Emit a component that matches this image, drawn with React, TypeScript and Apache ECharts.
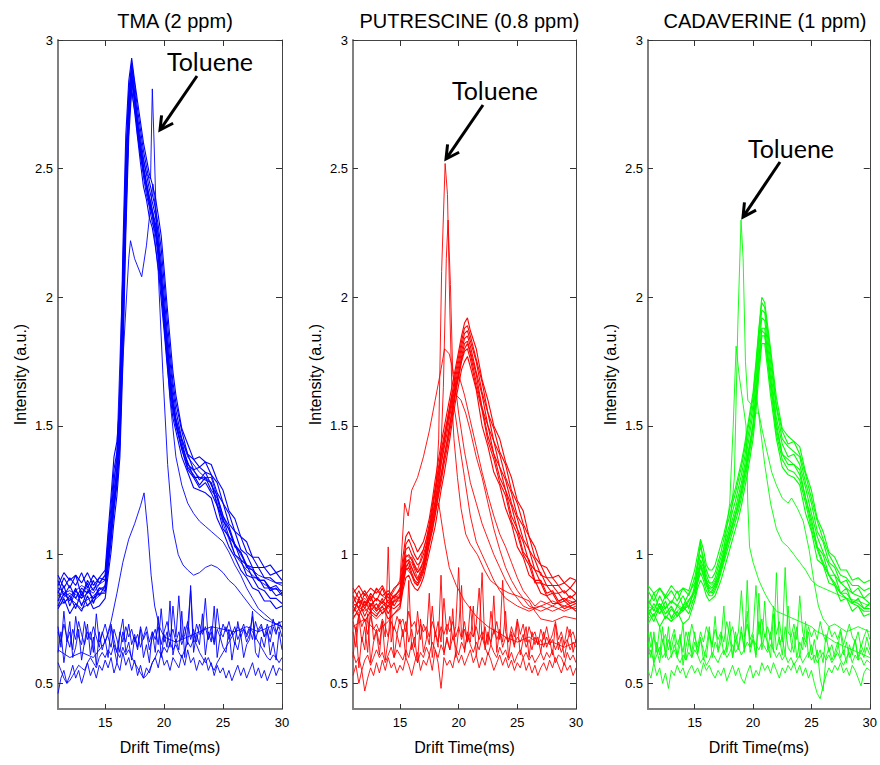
import React, { useEffect, useRef } from "react";
import * as echarts from "echarts";

// ---------- shared sample positions (drift time, ms) ----------
const XS = [11, 11.5, 12, 12.5, 13, 13.5, 14, 14.5,
  15, 15.25, 15.5, 15.75, 16, 16.25, 16.5, 16.75, 17, 17.25, 17.5, 17.75, 18, 18.25, 18.5, 18.75, 19, 19.25, 19.5, 19.75, 20, 20.25, 20.5, 20.75, 21,
  21.5, 22, 22.5, 23, 23.5, 24, 24.5, 25, 25.5, 26, 26.5, 27, 27.5, 28, 28.5, 29, 29.5, 30];
const XN = [11, 11.25, 11.5, 11.75, 12, 12.25, 12.5, 12.75, 13,
  13.25, 13.5, 13.75, 14, 14.25, 14.5, 14.75, 15,
  15.25, 15.5, 15.75, 16, 16.25, 16.5, 16.75, 17,
  17.25, 17.5, 17.75, 18, 18.25, 18.5, 18.75, 19,
  19.25, 19.5, 19.75, 20, 20.25, 20.5, 20.75, 21,
  21.25, 21.5, 21.75, 22, 22.25, 22.5, 22.75, 23,
  23.25, 23.5, 23.75, 24, 24.25, 24.5, 24.75, 25,
  25.25, 25.5, 25.75, 26, 26.25, 26.5, 26.75, 27,
  27.25, 27.5, 27.75, 28, 28.25, 28.5, 28.75, 29, 29.25, 29.5, 29.75, 30];

const X_TICKS = [15, 20, 25, 30];
const Y_TICKS = [0.5, 1, 1.5, 2, 2.5, 3];

// ---------- TMA (2 ppm) ----------
const TMA_B1 = [0.79, 0.83, 0.77, 0.81, 0.78, 0.84, 0.79, 0.8,
  0.83, 0.92, 1.01, 1.13, 1.23, 1.38, 1.74, 2.24, 2.62, 2.81, 2.72, 2.62, 2.52, 2.43, 2.38, 2.31, 2.27, 2.2, 2.12, 1.99, 1.87, 1.74, 1.62, 1.53, 1.48,
  1.38, 1.32, 1.26, 1.25, 1.24, 1.22, 1.14, 1.09, 1.03, 0.99, 0.94, 0.91, 0.87, 0.86, 0.82, 0.82, 0.79, 0.8];
const TMA_B2 = [0.86, 0.81, 0.84, 0.79, 0.86, 0.8, 0.83, 0.85,
  0.85, 0.95, 1.06, 1.18, 1.27, 1.42, 1.82, 2.3, 2.66, 2.84, 2.76, 2.63, 2.55, 2.47, 2.4, 2.35, 2.29, 2.25, 2.16, 2.04, 1.9, 1.77, 1.66, 1.56, 1.5,
  1.41, 1.33, 1.3, 1.26, 1.28, 1.24, 1.19, 1.1, 1.07, 1.0, 0.98, 0.92, 0.91, 0.87, 0.86, 0.83, 0.83, 0.81];
const TMA_B3 = [0.82, 0.88, 0.8, 0.86, 0.83, 0.89, 0.81, 0.87,
  0.86, 0.97, 1.09, 1.22, 1.3, 1.45, 1.9, 2.37, 2.7, 2.86, 2.77, 2.66, 2.57, 2.49, 2.43, 2.36, 2.32, 2.27, 2.18, 2.07, 1.94, 1.8, 1.68, 1.58, 1.51,
  1.42, 1.36, 1.3, 1.3, 1.29, 1.28, 1.19, 1.14, 1.07, 1.04, 0.98, 0.96, 0.91, 0.91, 0.87, 0.87, 0.84, 0.85];
const TMA_B4 = [0.9, 0.84, 0.88, 0.83, 0.87, 0.85, 0.9, 0.84,
  0.88, 1.0, 1.12, 1.25, 1.33, 1.48, 1.95, 2.42, 2.73, 2.88, 2.79, 2.68, 2.6, 2.51, 2.45, 2.39, 2.34, 2.29, 2.21, 2.1, 1.97, 1.84, 1.71, 1.61, 1.53,
  1.44, 1.35, 1.33, 1.29, 1.32, 1.27, 1.23, 1.15, 1.11, 1.04, 1.01, 0.96, 0.95, 0.9, 0.9, 0.87, 0.88, 0.85];
const TMA_B5 = [0.85, 0.91, 0.87, 0.92, 0.84, 0.9, 0.86, 0.91,
  0.9, 1.03, 1.15, 1.29, 1.37, 1.52, 2.02, 2.48, 2.77, 2.9, 2.8, 2.7, 2.62, 2.54, 2.48, 2.42, 2.37, 2.32, 2.25, 2.14, 2.01, 1.87, 1.75, 1.64, 1.56,
  1.45, 1.39, 1.33, 1.34, 1.32, 1.31, 1.24, 1.2, 1.12, 1.09, 1.02, 1.0, 0.95, 0.95, 0.91, 0.91, 0.89, 0.89];
const TMA_B6 = [0.92, 0.87, 0.91, 0.88, 0.93, 0.87, 0.92, 0.89,
  0.92, 1.06, 1.19, 1.33, 1.4, 1.56, 2.1, 2.55, 2.8, 2.91, 2.83, 2.73, 2.65, 2.57, 2.51, 2.45, 2.4, 2.35, 2.28, 2.19, 2.06, 1.92, 1.79, 1.67, 1.59,
  1.48, 1.39, 1.37, 1.34, 1.36, 1.31, 1.28, 1.2, 1.16, 1.09, 1.07, 1.01, 0.99, 0.95, 0.95, 0.92, 0.93, 0.9];
const TMA_B7 = [0.88, 0.93, 0.9, 0.92, 0.89, 0.93, 0.88, 0.91,
  0.94, 1.09, 1.23, 1.38, 1.44, 1.6, 2.18, 2.63, 2.84, 2.93, 2.84, 2.76, 2.68, 2.6, 2.54, 2.48, 2.44, 2.39, 2.32, 2.24, 2.11, 1.97, 1.84, 1.71, 1.62,
  1.49, 1.43, 1.37, 1.38, 1.36, 1.35, 1.29, 1.25, 1.17, 1.14, 1.07, 1.05, 0.99, 0.99, 0.95, 0.96, 0.93, 0.94];
const TMA_B8 = [0.8, 0.85, 0.82, 0.87, 0.8, 0.86, 0.83, 0.87,
  0.87, 0.99, 1.1, 1.2, 1.29, 1.44, 1.88, 2.35, 2.68, 2.85, 2.78, 2.65, 2.58, 2.5, 2.44, 2.37, 2.33, 2.26, 2.2, 2.09, 1.95, 1.82, 1.7, 1.59, 1.52,
  1.41, 1.34, 1.31, 1.27, 1.3, 1.25, 1.22, 1.13, 1.1, 1.03, 1.01, 0.95, 0.94, 0.9, 0.9, 0.86, 0.87, 0.84];

const TMA_N1 = [0.62, 0.7, 0.58, 0.66, 0.74, 0.6, 0.64, 0.71, 0.59,
  0.66, 0.73, 0.61, 0.68, 0.57, 0.7, 0.63, 0.67,
  0.6, 0.72, 0.64, 0.58, 0.69, 0.75, 0.62, 0.66,
  0.59, 0.68, 0.63, 0.71, 0.6, 0.65, 0.58, 0.7,
  0.62, 0.76, 0.6, 0.69, 0.64, 0.82, 0.61, 0.67,
  0.63, 0.78, 0.6, 0.72, 0.86, 0.62, 0.69, 0.65,
  0.77, 0.61, 0.7, 0.66, 0.8, 0.6, 0.68, 0.64,
  0.62, 0.71, 0.59, 0.66, 0.63, 0.69, 0.6, 0.65,
  0.67, 0.78, 0.62, 0.6, 0.68, 0.64, 0.71, 0.61, 0.66, 0.59, 0.7, 0.63];
const TMA_N2 = [0.46, 0.52, 0.55, 0.5, 0.53, 0.57, 0.52, 0.55, 0.5,
  0.54, 0.58, 0.53, 0.56, 0.52, 0.57, 0.55, 0.59,
  0.56, 0.6, 0.54, 0.58, 0.55, 0.62, 0.57, 0.6,
  0.55, 0.59, 0.53, 0.57, 0.52, 0.56, 0.54, 0.58,
  0.6, 0.56, 0.62, 0.57, 0.59, 0.55, 0.6, 0.58,
  0.56, 0.61, 0.57, 0.63, 0.58, 0.6, 0.55, 0.59,
  0.57, 0.6, 0.55, 0.58, 0.53, 0.57, 0.54, 0.56,
  0.52, 0.55, 0.51, 0.54, 0.57, 0.53, 0.56, 0.52,
  0.55, 0.58, 0.53, 0.56, 0.52, 0.55, 0.51, 0.54, 0.57, 0.53, 0.56, 0.55];
const TMA_N3 = [0.72, 0.64, 0.78, 0.66, 0.7, 0.63, 0.76, 0.68, 0.65,
  0.74, 0.67, 0.7, 0.62, 0.77, 0.66, 0.69, 0.73,
  0.68, 0.64, 0.71, 0.67, 0.62, 0.7, 0.66, 0.73,
  0.65, 0.69, 0.64, 0.72, 0.67, 0.7, 0.63, 0.68,
  0.71, 0.65, 0.79, 0.66, 0.7, 0.64, 0.8, 0.68,
  0.84, 0.67, 0.72, 0.65, 0.88, 0.66, 0.73, 0.69,
  0.7, 0.83, 0.67, 0.72, 0.66, 0.79, 0.7, 0.68,
  0.72, 0.67, 0.7, 0.65, 0.74, 0.68, 0.71, 0.66,
  0.69, 0.76, 0.67, 0.71, 0.73, 0.68, 0.7, 0.66, 0.72, 0.69, 0.74, 0.71];
const TMA_N4 = [0.58, 0.55, 0.52, 0.5, 0.51, 0.53, 0.55, 0.57, 0.56,
  0.55, 0.58, 0.6, 0.58, 0.56, 0.6, 0.62, 0.6,
  0.63, 0.61, 0.65, 0.62, 0.6, 0.64, 0.61, 0.63,
  0.6, 0.58, 0.56, 0.54, 0.52, 0.53, 0.55, 0.58,
  0.6, 0.63, 0.61, 0.64, 0.62, 0.66, 0.63, 0.65,
  0.62, 0.6, 0.63, 0.66, 0.64, 0.67, 0.65, 0.62,
  0.6, 0.58, 0.6, 0.57, 0.55, 0.58, 0.6, 0.62,
  0.64, 0.66, 0.68, 0.7, 0.72, 0.7, 0.71, 0.69,
  0.72, 0.7, 0.68, 0.66, 0.64, 0.62, 0.6, 0.59, 0.61, 0.6, 0.58, 0.6];
const TMA_N5 = [0.7, 0.66, 0.73, 0.68, 0.64, 0.71, 0.67, 0.74, 0.69,
  0.65, 0.7, 0.67, 0.72, 0.68, 0.64, 0.7, 0.66,
  0.69, 0.73, 0.67, 0.62, 0.7, 0.66, 0.72, 0.68,
  0.71, 0.66, 0.69, 0.64, 0.68, 0.72, 0.66, 0.7,
  0.67, 0.72, 0.65, 0.7, 0.74, 0.68, 0.71, 0.66,
  0.7, 0.65, 0.69, 0.74, 0.67, 0.71, 0.66, 0.73,
  0.69, 0.72, 0.67, 0.7, 0.65, 0.71, 0.68, 0.73,
  0.7, 0.74, 0.69, 0.72, 0.67, 0.7, 0.73, 0.68,
  0.71, 0.67, 0.74, 0.7, 0.72, 0.68, 0.73, 0.69, 0.75, 0.7, 0.72, 0.68];

const TMA_S1 = [[11, 0.63], [12, 0.6], [13, 0.62], [14, 0.6], [15, 0.66], [15.5, 0.74], [16, 0.85], [16.5, 0.97], [17, 1.06], [17.5, 1.12], [18, 1.19], [18.3, 1.24], [18.6, 1.1], [18.9, 0.92], [19.2, 0.8], [19.6, 0.72], [20, 0.68], [21, 0.66], [22, 0.68], [23, 0.7], [24, 0.72], [25, 0.71], [26, 0.7], [27, 0.72], [28, 0.7], [29, 0.72], [30, 0.74]];
const TMA_S2 = [[11, 0.84], [12, 0.86], [13, 0.83], [14, 0.87], [15, 0.9], [15.5, 1.1], [16, 1.3], [16.5, 1.75], [17, 2.15], [17.15, 2.22], [17.5, 2.15], [18.1, 2.08], [18.5, 2.2], [19.05, 2.44], [19.4, 2.28], [19.8, 2.05], [20.2, 1.8], [20.6, 1.62], [21, 1.52], [22, 1.38], [23, 1.32], [24, 1.28], [25, 1.12], [26, 1.0], [27, 0.94], [28, 0.9], [29, 0.87], [30, 0.86]];
const TMA_S3 = [[11, 0.87], [12, 0.84], [13, 0.88], [14, 0.85], [15, 0.92], [15.5, 1.15], [16, 1.4], [16.5, 2.1], [17, 2.78], [17.25, 2.86], [17.6, 2.72], [18, 2.58], [18.5, 2.48], [18.85, 2.46], [19.0, 2.81], [19.15, 2.6], [19.4, 2.2], [19.8, 2.0], [20.2, 1.78], [20.6, 1.6], [21, 1.5], [22, 1.35], [23, 1.3], [24, 1.3], [25, 1.15], [26, 1.04], [27, 0.96], [28, 0.92], [29, 0.9], [30, 0.88]];
const TMA_S4 = [[11, 0.8], [12, 0.83], [13, 0.79], [14, 0.82], [15, 0.86], [15.5, 1.05], [16, 1.3], [16.5, 1.9], [17, 2.7], [17.25, 2.8], [17.6, 2.7], [18, 2.55], [18.5, 2.42], [19, 2.32], [19.5, 2.1], [19.9, 1.7], [20.3, 1.35], [20.75, 1.1], [21.2, 1.0], [21.6, 0.96], [22, 0.94], [22.5, 0.92], [23, 0.93], [23.5, 0.95], [24, 0.96], [24.5, 0.95], [25, 0.93], [25.5, 0.9], [26, 0.88], [26.5, 0.85], [27, 0.82], [27.5, 0.79], [28, 0.77], [28.5, 0.75], [29, 0.74], [29.5, 0.73], [30, 0.72]];
const TMA_S5 = [[11, 0.82], [12, 0.85], [13, 0.81], [14, 0.84], [15, 0.88], [15.5, 1.08], [16, 1.35], [16.5, 2.0], [17, 2.75], [17.25, 2.84], [17.6, 2.74], [18, 2.56], [18.5, 2.44], [19, 2.34], [19.5, 2.2], [20, 1.92], [20.5, 1.6], [21, 1.38], [21.5, 1.27], [22, 1.2], [22.5, 1.16], [23, 1.13], [23.5, 1.11], [24, 1.09], [24.5, 1.07], [25, 1.05], [25.5, 1.01], [26, 0.96], [26.5, 0.92], [27, 0.87], [27.5, 0.83], [28, 0.79], [28.5, 0.77], [29, 0.75], [29.5, 0.73], [30, 0.72]];

// ---------- PUTRESCINE (0.8 ppm) ----------
const PUT_B1 = [0.75, 0.79, 0.74, 0.78, 0.76, 0.8, 0.75, 0.77,
  0.79, 0.86, 0.91, 0.92, 0.89, 0.87, 0.86, 0.88, 0.91, 0.96, 1.01, 1.06, 1.11, 1.18, 1.25, 1.31, 1.38, 1.45, 1.53, 1.6, 1.66, 1.72, 1.75, 1.77, 1.73,
  1.64, 1.5, 1.42, 1.32, 1.27, 1.18, 1.12, 1.03, 0.99, 0.92, 0.9, 0.85, 0.84, 0.81, 0.81, 0.79, 0.8, 0.78];
const PUT_B2 = [0.8, 0.76, 0.82, 0.78, 0.81, 0.77, 0.8, 0.79,
  0.81, 0.88, 0.94, 0.95, 0.92, 0.89, 0.88, 0.9, 0.93, 0.98, 1.04, 1.09, 1.15, 1.22, 1.28, 1.35, 1.41, 1.48, 1.55, 1.63, 1.69, 1.75, 1.79, 1.8, 1.76,
  1.65, 1.56, 1.44, 1.37, 1.28, 1.23, 1.13, 1.08, 1.0, 0.96, 0.89, 0.89, 0.84, 0.85, 0.81, 0.82, 0.8, 0.81];
const PUT_B3 = [0.77, 0.83, 0.79, 0.84, 0.78, 0.82, 0.8, 0.84,
  0.83, 0.9, 0.97, 0.98, 0.95, 0.92, 0.9, 0.92, 0.95, 1.0, 1.06, 1.12, 1.18, 1.25, 1.31, 1.38, 1.44, 1.51, 1.58, 1.65, 1.71, 1.77, 1.82, 1.83, 1.79,
  1.7, 1.57, 1.5, 1.39, 1.34, 1.25, 1.19, 1.1, 1.05, 0.97, 0.94, 0.89, 0.88, 0.85, 0.85, 0.82, 0.84, 0.82];
const PUT_B4 = [0.84, 0.79, 0.85, 0.8, 0.83, 0.81, 0.85, 0.8,
  0.84, 0.92, 0.99, 1.0, 0.98, 0.95, 0.93, 0.95, 0.97, 1.02, 1.08, 1.15, 1.21, 1.28, 1.35, 1.41, 1.47, 1.54, 1.6, 1.67, 1.73, 1.79, 1.84, 1.85, 1.81,
  1.71, 1.62, 1.5, 1.44, 1.34, 1.29, 1.2, 1.14, 1.06, 1.02, 0.94, 0.93, 0.88, 0.88, 0.85, 0.86, 0.83, 0.85];
const PUT_B5 = [0.81, 0.86, 0.8, 0.85, 0.82, 0.87, 0.81, 0.84,
  0.86, 0.94, 1.02, 1.03, 1.0, 0.98, 0.96, 0.97, 1.0, 1.04, 1.1, 1.17, 1.24, 1.3, 1.38, 1.44, 1.5, 1.56, 1.62, 1.69, 1.75, 1.81, 1.86, 1.87, 1.83,
  1.75, 1.63, 1.55, 1.44, 1.39, 1.3, 1.24, 1.15, 1.11, 1.02, 0.98, 0.92, 0.91, 0.88, 0.88, 0.85, 0.87, 0.85];
const PUT_B6 = [0.87, 0.83, 0.86, 0.82, 0.87, 0.84, 0.86, 0.83,
  0.87, 0.96, 1.04, 1.06, 1.03, 1.0, 0.98, 1.0, 1.02, 1.06, 1.12, 1.19, 1.26, 1.33, 1.4, 1.46, 1.52, 1.58, 1.64, 1.71, 1.77, 1.83, 1.88, 1.89, 1.85,
  1.76, 1.67, 1.55, 1.49, 1.4, 1.35, 1.25, 1.2, 1.12, 1.07, 0.99, 0.96, 0.91, 0.91, 0.88, 0.89, 0.87, 0.9];
const PUT_B7 = [0.85, 0.88, 0.84, 0.87, 0.85, 0.88, 0.83, 0.87,
  0.89, 0.99, 1.07, 1.09, 1.06, 1.04, 1.01, 1.03, 1.05, 1.09, 1.14, 1.21, 1.29, 1.36, 1.43, 1.49, 1.55, 1.61, 1.67, 1.73, 1.79, 1.85, 1.9, 1.92, 1.87,
  1.8, 1.68, 1.6, 1.5, 1.45, 1.36, 1.3, 1.21, 1.17, 1.07, 1.03, 0.96, 0.95, 0.91, 0.92, 0.89, 0.91, 0.9];
const PUT_B8 = [0.78, 0.82, 0.76, 0.81, 0.79, 0.83, 0.77, 0.82,
  0.82, 0.89, 0.95, 0.97, 0.93, 0.9, 0.89, 0.91, 0.94, 0.99, 1.05, 1.1, 1.16, 1.23, 1.3, 1.37, 1.43, 1.5, 1.57, 1.64, 1.7, 1.76, 1.8, 1.82, 1.78,
  1.67, 1.57, 1.46, 1.39, 1.3, 1.25, 1.15, 1.1, 1.01, 0.98, 0.9, 0.9, 0.85, 0.86, 0.82, 0.83, 0.81, 0.82];

const PUT_N1 = [0.6, 0.72, 0.56, 0.68, 0.63, 0.77, 0.58, 0.66, 0.7,
  0.61, 0.74, 0.59, 0.67, 0.82, 0.6, 0.69, 0.64,
  0.71, 0.6, 0.9, 0.63, 0.68, 0.58, 0.75, 0.62,
  0.67, 0.85, 0.6, 0.7, 0.64, 0.92, 0.61, 0.68,
  0.63, 0.79, 0.6, 0.71, 0.88, 0.62, 0.7, 0.66,
  0.8, 0.61, 0.69, 0.93, 0.63, 0.7, 0.65, 0.84,
  0.62, 0.71, 0.66, 0.78, 0.6, 0.69, 0.64, 0.74,
  0.61, 0.67, 0.72, 0.6, 0.7, 0.65, 0.68, 0.62,
  0.7, 0.64, 0.67, 0.61, 0.73, 0.63, 0.68, 0.6, 0.66, 0.71, 0.62, 0.67];
const PUT_N2 = [0.53, 0.57, 0.5, 0.55, 0.47, 0.52, 0.56, 0.53, 0.58,
  0.54, 0.59, 0.55, 0.6, 0.56, 0.58, 0.54, 0.57,
  0.55, 0.6, 0.57, 0.53, 0.58, 0.62, 0.55, 0.59,
  0.57, 0.61, 0.55, 0.63, 0.58, 0.48, 0.6, 0.57,
  0.59, 0.56, 0.62, 0.58, 0.61, 0.57, 0.6, 0.63,
  0.58, 0.61, 0.56, 0.6, 0.57, 0.62, 0.59, 0.55,
  0.58, 0.61, 0.57, 0.6, 0.56, 0.59, 0.55, 0.58,
  0.56, 0.6, 0.55, 0.58, 0.54, 0.57, 0.53, 0.56,
  0.58, 0.55, 0.59, 0.56, 0.6, 0.57, 0.54, 0.58, 0.55, 0.57, 0.53, 0.56];
const PUT_N3 = [0.7, 0.64, 0.76, 0.66, 0.72, 0.62, 0.8, 0.67, 0.71,
  0.65, 0.74, 0.68, 1.03, 0.66, 0.72, 0.69, 0.75,
  0.68, 0.74, 0.66, 0.71, 0.64, 0.78, 0.67, 0.73,
  0.7, 0.65, 0.8, 0.68, 0.74, 0.66, 0.83, 0.69,
  0.76, 0.67, 0.72, 0.95, 0.68, 0.74, 0.66, 0.8,
  0.68, 0.73, 0.87, 0.67, 0.72, 0.65, 0.78, 0.69,
  0.74, 0.67, 0.9, 0.7, 0.66, 0.72, 0.68, 0.75,
  0.69, 0.73, 0.66, 0.72, 0.68, 0.7, 0.65, 0.71,
  0.67, 0.72, 0.66, 0.69, 0.74, 0.67, 0.7, 0.65, 0.72, 0.68, 0.7, 0.66];
const PUT_N4 = [0.62, 0.58, 0.6, 0.55, 0.59, 0.61, 0.57, 0.6, 0.63,
  0.6, 0.62, 0.58, 0.61, 0.64, 0.6, 0.63, 0.61,
  0.59, 0.63, 0.6, 0.66, 0.61, 0.58, 0.62, 0.6,
  0.64, 0.61, 0.66, 0.63, 0.6, 0.65, 0.62, 0.67,
  0.63, 0.68, 0.64, 0.61, 0.66, 0.63, 0.69, 0.65,
  0.62, 0.66, 0.63, 0.68, 0.64, 0.61, 0.65, 0.62,
  0.6, 0.64, 0.61, 0.63, 0.59, 0.62, 0.58, 0.61,
  0.63, 0.6, 0.62, 0.59, 0.61, 0.58, 0.6, 0.62,
  0.59, 0.62, 0.6, 0.63, 0.58, 0.61, 0.6, 0.57, 0.62, 0.59, 0.61, 0.58];
const PUT_N5 = [0.74, 0.7, 0.77, 0.72, 0.75, 0.69, 0.76, 0.71, 0.73,
  0.7, 0.75, 0.72, 0.68, 0.74, 0.71, 0.76, 0.73,
  0.75, 0.7, 0.78, 0.72, 0.74, 0.69, 0.73, 0.7,
  0.72, 0.68, 0.74, 0.7, 0.66, 0.72, 0.69, 0.73,
  0.7, 0.74, 0.68, 0.72, 0.67, 0.71, 0.66, 0.7,
  0.68, 0.72, 0.67, 0.7, 0.65, 0.69, 0.66, 0.71,
  0.67, 0.7, 0.64, 0.68, 0.66, 0.7, 0.65, 0.68,
  0.66, 0.69, 0.64, 0.67, 0.63, 0.68, 0.65, 0.67,
  0.64, 0.68, 0.65, 0.67, 0.63, 0.66, 0.62, 0.65, 0.67, 0.63, 0.66, 0.64];

const PUT_S1 = [[11, 0.8], [12, 0.83], [13, 0.78], [14, 0.82], [15, 0.86], [15.5, 1.0], [16, 0.98], [16.5, 0.94], [17, 1.02], [17.5, 1.1], [18, 1.2], [18.3, 1.45], [18.55, 2.1], [18.85, 2.52], [19.05, 2.4], [19.25, 1.95], [19.45, 1.6], [19.7, 1.55], [20, 1.45], [20.5, 1.3], [21, 1.15], [21.5, 1.05], [22, 1.0], [22.5, 0.95], [23, 0.9], [23.5, 0.86], [24, 0.83], [25, 0.8], [26, 0.78], [27, 0.8], [28, 0.82], [29, 0.8], [30, 0.82]];
const PUT_S2 = [[11, 0.76], [12, 0.79], [13, 0.75], [14, 0.8], [15, 0.84], [15.5, 0.96], [16, 0.95], [16.5, 0.9], [17, 0.98], [17.5, 1.08], [18, 1.18], [18.4, 1.3], [18.7, 1.65], [18.95, 2.15], [19.1, 2.3], [19.3, 2.05], [19.5, 1.7], [19.8, 1.62], [20.2, 1.6], [20.6, 1.55], [21, 1.48], [21.5, 1.38], [22, 1.3], [22.5, 1.2], [23, 1.1], [23.5, 1.02], [24, 0.95], [24.5, 0.9], [25, 0.86], [26, 0.8], [27, 0.78], [28, 0.8], [29, 0.78], [30, 0.8]];
const PUT_S3 = [[11, 0.84], [12, 0.8], [13, 0.86], [14, 0.82], [15, 0.9], [15.4, 1.2], [15.7, 1.15], [16, 1.25], [16.5, 1.3], [17, 1.38], [17.5, 1.48], [18, 1.6], [18.5, 1.72], [18.8, 1.8], [19.2, 1.78], [19.6, 1.7], [20, 1.55], [20.5, 1.4], [21, 1.28], [21.5, 1.2], [22, 1.12], [22.5, 1.06], [23, 1.0], [23.5, 0.95], [24, 0.9], [24.5, 0.86], [25, 0.83], [25.5, 0.8], [26, 0.79], [27, 0.8], [28, 0.78], [29, 0.8], [30, 0.79]];
const PUT_S4 = [[11, 0.78], [12, 0.82], [13, 0.77], [14, 0.8], [15, 0.85], [15.5, 0.98], [16, 0.97], [16.5, 0.91], [17, 0.95], [17.5, 1.08], [18, 1.2], [18.5, 1.35], [19, 1.5], [19.4, 1.62], [19.6, 1.45], [19.9, 1.3], [20.2, 1.18], [20.6, 1.08], [21, 1.04], [21.6, 1.0], [22.2, 0.94], [22.7, 0.9], [23.5, 0.87], [24.3, 0.85], [25, 0.84], [26, 0.82], [26.5, 0.78], [27, 0.75], [28, 0.74], [29, 0.76], [30, 0.75]];
const PUT_S5 = [[11, 0.81], [12, 0.78], [13, 0.83], [14, 0.79], [15, 0.84], [15.5, 0.97], [16, 0.99], [16.5, 0.93], [17, 0.96], [17.5, 1.1], [18, 1.25], [18.5, 1.38], [19, 1.5], [19.5, 1.62], [20, 1.7], [20.5, 1.62], [21, 1.52], [21.5, 1.42], [22, 1.32], [22.5, 1.23], [23, 1.15], [23.5, 1.08], [24, 1.03], [24.5, 0.97], [25, 0.91], [25.5, 0.86], [26, 0.83], [26.5, 0.8], [27, 0.82], [28, 0.8], [29, 0.83], [30, 0.81]];
const PUT_S6 = [[11, 0.72], [12, 0.75], [13, 0.7], [14, 0.74], [15, 0.8], [15.5, 0.95], [16, 0.92], [16.5, 0.88], [17, 0.96], [17.5, 1.05], [18, 1.18], [18.3, 1.2], [18.8, 1.05], [19.2, 0.95], [19.8, 0.88], [20.5, 0.82], [21.5, 0.76], [22.5, 0.72], [24, 0.68], [25, 0.66], [26, 0.68], [27, 0.65], [28, 0.66], [29, 0.64], [30, 0.66]];

// ---------- CADAVERINE (1 ppm) ----------
const CAD_B1 = [0.73, 0.77, 0.72, 0.76, 0.74, 0.78, 0.73, 0.75,
  0.82, 0.87, 0.9, 0.88, 0.84, 0.82, 0.83, 0.84, 0.87, 0.9, 0.94, 0.98, 1.02, 1.06, 1.1, 1.14, 1.19, 1.25, 1.31, 1.38, 1.45, 1.56, 1.7, 1.82, 1.82,
  1.62, 1.45, 1.34, 1.31, 1.3, 1.27, 1.16, 1.09, 0.98, 0.96, 0.89, 0.88, 0.82, 0.83, 0.78, 0.8, 0.76, 0.77];
const CAD_B2 = [0.78, 0.74, 0.8, 0.75, 0.79, 0.76, 0.8, 0.77,
  0.84, 0.89, 0.93, 0.9, 0.86, 0.84, 0.84, 0.86, 0.89, 0.93, 0.97, 1.01, 1.05, 1.09, 1.13, 1.17, 1.22, 1.28, 1.34, 1.41, 1.48, 1.6, 1.73, 1.85, 1.85,
  1.65, 1.47, 1.37, 1.33, 1.32, 1.29, 1.2, 1.1, 1.02, 0.96, 0.92, 0.88, 0.85, 0.83, 0.81, 0.8, 0.78, 0.78];
const CAD_B3 = [0.76, 0.81, 0.77, 0.82, 0.75, 0.8, 0.78, 0.82,
  0.86, 0.91, 0.96, 0.92, 0.88, 0.85, 0.86, 0.88, 0.91, 0.95, 0.99, 1.03, 1.08, 1.12, 1.16, 1.2, 1.25, 1.31, 1.37, 1.44, 1.51, 1.63, 1.77, 1.88, 1.88,
  1.69, 1.51, 1.39, 1.37, 1.35, 1.33, 1.22, 1.14, 1.03, 1.0, 0.92, 0.92, 0.85, 0.87, 0.81, 0.83, 0.79, 0.81];
const CAD_B4 = [0.83, 0.78, 0.84, 0.79, 0.82, 0.8, 0.84, 0.79,
  0.88, 0.93, 0.98, 0.95, 0.9, 0.87, 0.87, 0.89, 0.93, 0.97, 1.01, 1.06, 1.1, 1.14, 1.18, 1.23, 1.28, 1.34, 1.41, 1.48, 1.55, 1.67, 1.81, 1.92, 1.91,
  1.72, 1.53, 1.43, 1.38, 1.39, 1.35, 1.26, 1.16, 1.07, 1.01, 0.96, 0.92, 0.89, 0.87, 0.85, 0.84, 0.83, 0.81];
const CAD_B5 = [0.8, 0.85, 0.79, 0.84, 0.81, 0.86, 0.8, 0.85,
  0.89, 0.95, 1.0, 0.97, 0.92, 0.89, 0.89, 0.91, 0.95, 0.99, 1.03, 1.08, 1.12, 1.17, 1.21, 1.26, 1.31, 1.37, 1.44, 1.51, 1.58, 1.7, 1.84, 1.95, 1.94,
  1.75, 1.57, 1.45, 1.42, 1.4, 1.38, 1.28, 1.2, 1.09, 1.05, 0.97, 0.95, 0.89, 0.9, 0.85, 0.87, 0.83, 0.85];
const CAD_B6 = [0.86, 0.82, 0.87, 0.83, 0.86, 0.82, 0.87, 0.84,
  0.91, 0.97, 1.03, 0.99, 0.94, 0.91, 0.91, 0.93, 0.97, 1.01, 1.06, 1.11, 1.15, 1.2, 1.24, 1.29, 1.34, 1.4, 1.47, 1.54, 1.61, 1.73, 1.87, 1.98, 1.96,
  1.78, 1.58, 1.48, 1.43, 1.44, 1.39, 1.31, 1.22, 1.13, 1.06, 1.0, 0.96, 0.92, 0.91, 0.88, 0.88, 0.86, 0.87];
const CAD_B7 = [0.88, 0.85, 0.87, 0.84, 0.88, 0.85, 0.87, 0.86,
  0.94, 1.0, 1.06, 1.02, 0.96, 0.94, 0.94, 0.96, 1.0, 1.04, 1.08, 1.13, 1.18, 1.22, 1.26, 1.31, 1.36, 1.42, 1.49, 1.56, 1.63, 1.75, 1.88, 2.0, 1.98,
  1.8, 1.61, 1.49, 1.46, 1.44, 1.42, 1.32, 1.25, 1.14, 1.09, 1.01, 0.99, 0.94, 0.94, 0.9, 0.91, 0.89, 0.9];
const CAD_B8 = [0.79, 0.76, 0.81, 0.77, 0.8, 0.76, 0.79, 0.8,
  0.86, 0.96, 1.05, 0.96, 0.89, 0.86, 0.85, 0.87, 0.9, 0.94, 0.98, 1.03, 1.07, 1.11, 1.15, 1.19, 1.24, 1.3, 1.36, 1.43, 1.5, 1.62, 1.76, 1.87, 1.86,
  1.67, 1.49, 1.39, 1.35, 1.35, 1.31, 1.22, 1.12, 1.03, 0.97, 0.92, 0.89, 0.85, 0.85, 0.82, 0.81, 0.79, 0.79];

const CAD_N1 = [0.64, 0.7, 0.58, 0.66, 0.61, 0.72, 0.6, 0.67, 0.63,
  0.69, 0.6, 0.65, 0.73, 0.59, 0.66, 0.62, 0.7,
  0.61, 0.67, 0.63, 0.6, 0.7, 0.64, 0.76, 0.62,
  0.66, 0.8, 0.62, 0.68, 0.6, 0.7, 0.64, 0.72,
  0.62, 0.9, 0.64, 0.69, 0.61, 0.74, 0.66, 0.82,
  0.63, 0.7, 0.62, 0.93, 0.65, 0.68, 0.61, 0.8,
  0.66, 0.62, 0.72, 0.6, 0.68, 0.64, 0.7, 0.61,
  0.67, 0.6, 0.63, 0.58, 0.69, 0.62, 0.65, 0.6,
  0.64, 0.7, 0.61, 0.66, 0.6, 0.63, 0.67, 0.6, 0.65, 0.62, 0.68, 0.63];
const CAD_N2 = [0.55, 0.52, 0.58, 0.53, 0.56, 0.5, 0.54, 0.48, 0.55,
  0.53, 0.57, 0.54, 0.56, 0.52, 0.55, 0.57, 0.54,
  0.56, 0.53, 0.58, 0.55, 0.57, 0.54, 0.52, 0.55,
  0.53, 0.56, 0.51, 0.54, 0.57, 0.53, 0.56, 0.52,
  0.5, 0.54, 0.57, 0.52, 0.55, 0.53, 0.58, 0.55,
  0.57, 0.54, 0.58, 0.55, 0.52, 0.56, 0.54, 0.57,
  0.55, 0.58, 0.54, 0.57, 0.53, 0.56, 0.52, 0.55,
  0.5, 0.46, 0.44, 0.49, 0.53, 0.56, 0.54, 0.57,
  0.55, 0.58, 0.54, 0.56, 0.53, 0.57, 0.55, 0.52, 0.49, 0.54, 0.56, 0.55];
const CAD_N3 = [0.7, 0.64, 0.68, 0.62, 0.72, 0.66, 0.69, 0.63, 0.67,
  0.71, 0.65, 0.68, 0.62, 0.7, 0.66, 0.73, 0.68,
  0.64, 0.7, 0.66, 0.72, 0.68, 0.65, 0.71, 0.67,
  0.7, 0.66, 0.74, 0.68, 0.72, 0.66, 0.7, 0.86,
  0.68, 0.73, 0.67, 0.7, 0.88, 0.69, 0.75, 0.68,
  0.72, 0.67, 0.8, 0.69, 0.74, 0.66, 0.95, 0.7,
  0.68, 0.73, 0.67, 0.84, 0.7, 0.66, 0.72, 0.68,
  0.71, 0.67, 0.74, 0.69, 0.66, 0.72, 0.68, 0.7,
  0.67, 0.71, 0.65, 0.69, 0.73, 0.68, 0.66, 0.7, 0.64, 0.68, 0.71, 0.67];
const CAD_N4 = [0.6, 0.63, 0.58, 0.61, 0.64, 0.6, 0.62, 0.59, 0.61,
  0.63, 0.6, 0.58, 0.61, 0.59, 0.62, 0.6, 0.63,
  0.61, 0.58, 0.6, 0.57, 0.59, 0.62, 0.6, 0.58,
  0.61, 0.63, 0.6, 0.62, 0.65, 0.62, 0.64, 0.61,
  0.63, 0.66, 0.64, 0.67, 0.65, 0.63, 0.66, 0.64,
  0.62, 0.65, 0.63, 0.6, 0.62, 0.59, 0.61, 0.58,
  0.6, 0.57, 0.59, 0.61, 0.58, 0.6, 0.62, 0.59,
  0.61, 0.58, 0.6, 0.62, 0.59, 0.61, 0.58, 0.6,
  0.62, 0.59, 0.57, 0.6, 0.62, 0.58, 0.61, 0.59, 0.6, 0.57, 0.59, 0.58];
const CAD_N5 = [0.66, 0.6, 0.7, 0.63, 0.58, 0.67, 0.62, 0.72, 0.6,
  0.65, 0.61, 0.69, 0.57, 0.64, 0.7, 0.6, 0.66,
  0.62, 0.68, 0.59, 0.64, 0.72, 0.6, 0.66, 0.63,
  0.69, 0.61, 0.65, 0.74, 0.6, 0.67, 0.63, 0.7,
  0.64, 0.78, 0.62, 0.67, 0.6, 0.85, 0.63, 0.69,
  0.66, 0.6, 0.77, 0.63, 0.68, 0.61, 0.72, 0.64,
  0.62, 0.7, 0.6, 0.66, 0.63, 0.74, 0.6, 0.65,
  0.58, 0.63, 0.52, 0.47, 0.6, 0.64, 0.59, 0.62,
  0.66, 0.6, 0.63, 0.58, 0.65, 0.61, 0.67, 0.59, 0.63, 0.6, 0.64, 0.61];

const CAD_S1 = [[11, 0.8], [12, 0.77], [13, 0.82], [14, 0.79], [15, 0.86], [15.5, 0.97], [16, 0.9], [16.5, 0.88], [17, 0.92], [17.5, 1.0], [18, 1.1], [18.4, 1.3], [18.7, 1.9], [18.97, 2.3], [19.15, 2.15], [19.35, 1.75], [19.55, 1.6], [19.9, 1.58], [20.2, 1.55], [20.5, 1.55], [20.8, 1.48], [21.2, 1.4], [21.6, 1.32], [22, 1.27], [22.5, 1.22], [23, 1.2], [23.3, 1.22], [23.8, 1.18], [24.3, 1.13], [24.8, 1.02], [25.2, 0.9], [25.6, 0.8], [26, 0.75], [26.5, 0.72], [27, 0.73], [28, 0.7], [29, 0.72], [30, 0.7]];
const CAD_S2 = [[11, 0.75], [12, 0.79], [13, 0.74], [14, 0.78], [15, 0.83], [15.5, 0.95], [16, 0.88], [16.5, 0.86], [17, 0.9], [17.5, 1.02], [18, 1.2], [18.3, 1.5], [18.55, 1.81], [18.8, 1.7], [19.1, 1.6], [19.4, 1.5], [19.55, 1.2], [19.7, 1.03], [20, 0.97], [20.5, 0.9], [21, 0.85], [21.5, 0.81], [22, 0.78], [23, 0.76], [24, 0.74], [25, 0.72], [25.5, 0.7], [26, 0.69], [27, 0.66], [28, 0.64], [29, 0.62], [30, 0.6]];
const CAD_S3 = [[11, 0.78], [12, 0.81], [13, 0.76], [14, 0.8], [15, 0.85], [15.5, 0.96], [16, 0.89], [16.5, 0.87], [17, 0.91], [17.5, 1.0], [18, 1.08], [18.5, 1.16], [19, 1.26], [19.5, 1.38], [20, 1.5], [20.3, 1.62], [20.6, 1.5], [21, 1.35], [21.5, 1.2], [22, 1.1], [22.5, 1.05], [23, 1.03], [23.5, 1.0], [24, 0.97], [24.5, 0.94], [25, 0.9], [25.5, 0.88], [26, 0.87], [27, 0.85], [28, 0.83], [29, 0.82], [30, 0.8]];

// ---------- panel definitions ----------
const PANELS = [
  { title: "TMA (2 ppm)", color: "#0000ff", left: 58, width: 224, noise: [TMA_N1, TMA_N2, TMA_N3, TMA_N4, TMA_N5], bundle: [TMA_B1, TMA_B2, TMA_B3, TMA_B4, TMA_B5, TMA_B6, TMA_B7, TMA_B8], special: [TMA_S1, TMA_S2, TMA_S3, TMA_S4, TMA_S5], label: [210, 61], arrow: [197, 76, 160, 130] },
  { title: "PUTRESCINE (0.8 ppm)", color: "#ff0000", left: 353, width: 223, noise: [PUT_N1, PUT_N2, PUT_N3, PUT_N4, PUT_N5], bundle: [PUT_B1, PUT_B2, PUT_B3, PUT_B4, PUT_B5, PUT_B6, PUT_B7, PUT_B8], special: [PUT_S1, PUT_S2, PUT_S3, PUT_S4, PUT_S5, PUT_S6], label: [495, 90], arrow: [483, 105, 446, 159] },
  { title: "CADAVERINE (1 ppm)", color: "#00ff00", left: 648, width: 224, noise: [CAD_N1, CAD_N2, CAD_N3, CAD_N4, CAD_N5], bundle: [CAD_B1, CAD_B2, CAD_B3, CAD_B4, CAD_B5, CAD_B6, CAD_B7, CAD_B8], special: [CAD_S1, CAD_S2, CAD_S3], label: [791, 148], arrow: [780, 162, 743, 217] },
];

const TOP = 40;
const HEIGHT = 669;
const FONT = '"Liberation Sans", Arial, sans-serif';

function zip(xs: number[], ys: number[]) {
  return ys.map((y, i) => [xs[i], y]);
}

function arrowGraphics(tx: number, ty: number, hx: number, hy: number) {
  const dx = hx - tx, dy = hy - ty;
  const len = Math.sqrt(dx * dx + dy * dy);
  const ux = dx / len, uy = dy / len;
  const L = 13, W = 7;
  const bx = hx - L * ux, by = hy - L * uy;
  const px = -uy, py = ux;
  return [
    { type: "line", shape: { x1: tx, y1: ty, x2: hx - 2 * ux, y2: hy - 2 * uy }, style: { stroke: "#000", lineWidth: 3 } },
    { type: "polyline", shape: { points: [[bx + W * px, by + W * py], [hx, hy], [bx - W * px, by - W * py]] }, style: { stroke: "#000", lineWidth: 3, fill: null, lineJoin: "miter" } },
  ];
}

export default function App() {
  const ref = useRef<HTMLDivElement>(null);
  useEffect(() => {
    document.body.style.margin = "0";
    if (!ref.current) return;
    const chart = echarts.init(ref.current, undefined, { renderer: "svg" });

    const grid = PANELS.map((p) => ({ left: p.left, top: TOP, width: p.width, height: HEIGHT, containLabel: false }));
    const xAxis: any[] = [];
    const yAxis: any[] = [];
    PANELS.forEach((p, i) => {
      xAxis.push({
        type: "value", gridIndex: i, min: 11, max: 30, position: "bottom",
        name: "Drift Time(ms)", nameLocation: "middle", nameGap: 30,
        nameTextStyle: { fontFamily: FONT, fontSize: 16, color: "#000" },
        axisLine: { show: true, lineStyle: { color: "#808080", width: 2 } },
        axisTick: { show: true, inside: true, length: 5, customValues: X_TICKS, lineStyle: { color: "#333" } },
        axisLabel: { show: true, customValues: X_TICKS, fontFamily: FONT, fontSize: 13, color: "#000", margin: 7 },
        splitLine: { show: false },
      });
      yAxis.push({
        type: "value", gridIndex: i, min: 0.4, max: 3, position: "left",
        name: "Intensity (a.u.)", nameLocation: "middle", nameGap: 30,
        nameTextStyle: { fontFamily: FONT, fontSize: 16, color: "#000" },
        axisLine: { show: true, lineStyle: { color: "#808080", width: 2 } },
        axisTick: { show: true, inside: true, length: 5, customValues: Y_TICKS, lineStyle: { color: "#333" } },
        axisLabel: { show: true, customValues: Y_TICKS, fontFamily: FONT, fontSize: 13, color: "#000", margin: 5 },
        splitLine: { show: false },
      });
    });
    PANELS.forEach((p, i) => {
      xAxis.push({
        type: "value", gridIndex: i, min: 11, max: 30, position: "top",
        axisLine: { show: true, lineStyle: { color: "#444", width: 1 } },
        axisTick: { show: true, inside: true, length: 6, customValues: X_TICKS, lineStyle: { color: "#333" } },
        axisLabel: { show: false }, splitLine: { show: false },
      });
      yAxis.push({
        type: "value", gridIndex: i, min: 0.4, max: 3, position: "right",
        axisLine: { show: true, lineStyle: { color: "#444", width: 1 } },
        axisTick: { show: true, inside: true, length: 6, customValues: Y_TICKS, lineStyle: { color: "#333" } },
        axisLabel: { show: false }, splitLine: { show: false },
      });
    });

    const series: any[] = [];
    PANELS.forEach((p, i) => {
      const base = { type: "line", xAxisIndex: i, yAxisIndex: i, showSymbol: false, symbol: "none", silent: true, animation: false };
      p.noise.forEach((ys) => series.push({ ...base, data: zip(XN, ys), lineStyle: { color: p.color, width: 0.9 } }));
      p.special.forEach((pts) => series.push({ ...base, data: pts, lineStyle: { color: p.color, width: 0.9 } }));
      p.bundle.forEach((ys) => series.push({ ...base, data: zip(XS, ys), lineStyle: { color: p.color, width: 1.1 } }));
    });

    const graphic: any[] = [];
    PANELS.forEach((p) => {
      graphic.push({
        type: "text", x: p.label[0], y: p.label[1],
        style: { text: "Toluene", font: '25px Lato, "Open Sans", sans-serif', fill: "#000", textAlign: "center", textVerticalAlign: "middle", align: "center", verticalAlign: "middle" },
      });
      graphic.push(...arrowGraphics(p.arrow[0], p.arrow[1], p.arrow[2], p.arrow[3]));
    });

    const title = PANELS.map((p) => ({
      text: p.title, left: p.left + p.width / 2, top: 6, textAlign: "center",
      textStyle: { fontFamily: FONT, fontSize: 20, fontWeight: "normal", color: "#000" },
    }));

    chart.setOption({
      animation: false,
      backgroundColor: "#fff",
      title, grid, xAxis, yAxis, series, graphic,
    });
    return () => chart.dispose();
  }, []);
  return <div ref={ref} style={{ width: 880, height: 765 }} />;
}
